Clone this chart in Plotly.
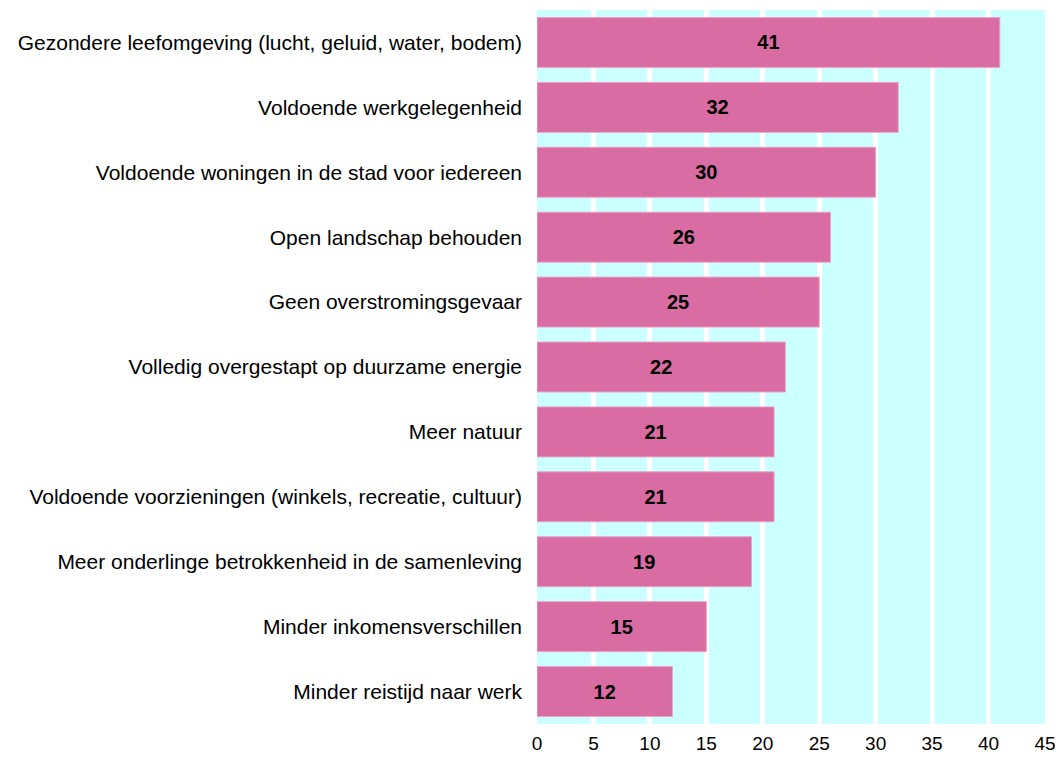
import plotly.graph_objects as go

# Categories and percentages (top to bottom as in the reference)
categories = [
    "Gezondere leefomgeving (lucht, geluid, water, bodem)",
    "Voldoende werkgelegenheid",
    "Voldoende woningen in de stad voor iedereen",
    "Open landschap behouden",
    "Geen overstromingsgevaar",
    "Volledig overgestapt op duurzame energie",
    "Meer natuur",
    "Voldoende voorzieningen (winkels, recreatie, cultuur)",
    "Meer onderlinge betrokkenheid in de samenleving",
    "Minder inkomensverschillen",
    "Minder reistijd naar werk",
]
values = [41, 32, 30, 26, 25, 22, 21, 21, 19, 15, 12]
tick_vals = list(range(0, 50, 5))

fig = go.Figure(go.Bar(
    y=categories,
    x=values,
    orientation="h",
    marker=dict(color="#DA6CA4", line=dict(color="#E9A5C8", width=1)),
    text=[str(v) for v in values],
    textposition="inside",
    insidetextanchor="middle",
    textangle=0,
    textfont=dict(family="Liberation Sans, Arial", size=20, color="black", weight="bold"),
    width=0.77,
))

# page body has an 8px margin, so shift the plot area back by 8px
fig.update_layout(
    width=1055,
    height=750,
    margin=dict(l=529, r=18, t=2, b=34),
    paper_bgcolor="white",
    plot_bgcolor="#CCFFFF",
    showlegend=False,
    font=dict(family="Liberation Sans, Arial", size=17, color="black"),
)
fig.update_xaxes(
    range=[0, 45],
    tickvals=tick_vals,
    showgrid=True,
    gridcolor="white",
    gridwidth=5,
    zeroline=False,
    showline=False,
    ticks="",
    ticklabelstandoff=6,
    tickfont=dict(size=19),
)
fig.update_yaxes(
    autorange="reversed",
    showgrid=False,
    ticks="",
    ticklabelstandoff=14,
    tickfont=dict(size=21),
)

fig.write_html("out.html")
